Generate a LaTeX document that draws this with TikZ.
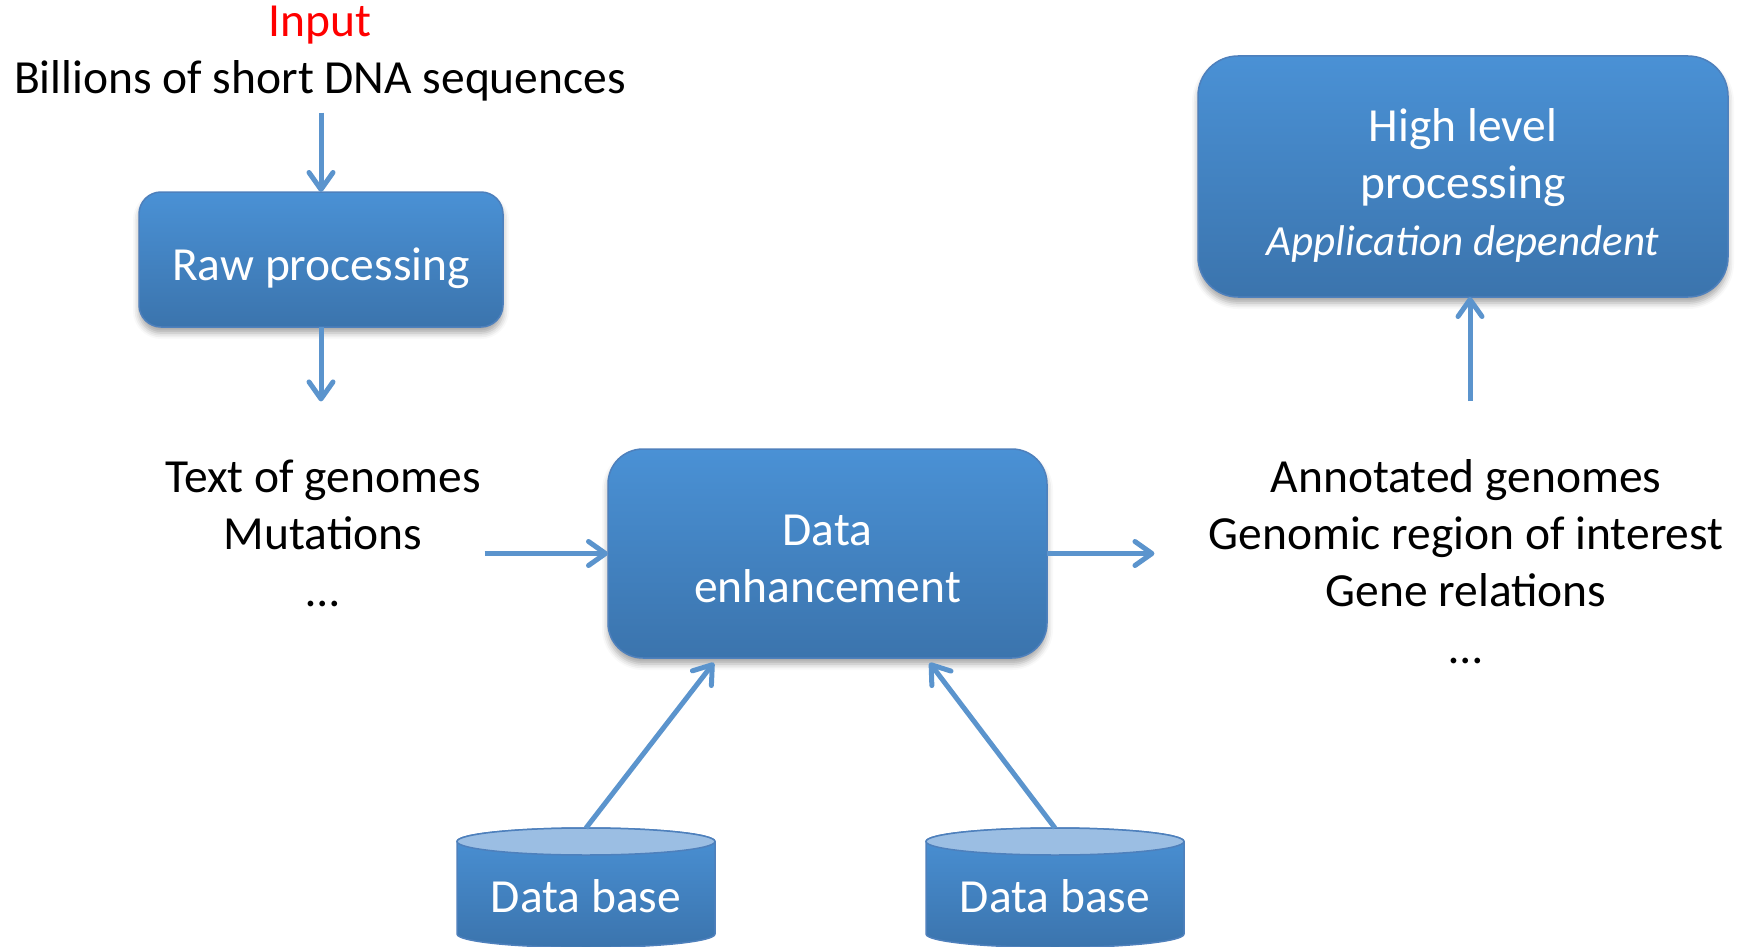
\documentclass[tikz,border=0pt]{standalone}
\usepackage{fontspec}
\setmainfont{Carlito}
\usetikzlibrary{arrows.meta,shadows.blur}
\definecolor{boxtop}{RGB}{74,145,213}
\definecolor{boxbot}{RGB}{59,116,173}
\definecolor{boxedge}{RGB}{78,128,188}
\definecolor{arrblue}{RGB}{91,148,205}
\definecolor{cyltop}{RGB}{155,190,227}
\definecolor{inred}{RGB}{255,0,0}
\begin{document}
\begin{tikzpicture}[x=1pt,y=-1pt,
  every node/.style={font=\fontsize{47.5}{57}\selectfont, inner sep=0pt, outer sep=0pt},
  procbox/.style={rounded corners=#1, top color=boxtop, bottom color=boxbot,
    draw=boxedge, line width=1.5pt, text=white, align=center,
    blur shadow={shadow xshift=0pt, shadow yshift=-6pt, shadow blur radius=6pt, shadow opacity=35}},
  plaintext/.style={align=center, text=black},
  dbbody/.style={top color=boxtop, bottom color=boxbot, draw=boxedge, line width=1.5pt},
  dbtop/.style={fill=cyltop, draw=boxedge, line width=1.5pt},
  arr/.style={line width=5pt, draw=arrblue, -{Straight Barb[length=17pt,width=24pt,round]}},
]
\useasboundingbox (0,0) rectangle (1746,947);

% top input text (anchor = baseline of last line)
\node[plaintext, anchor=base] (intxt) at (320,94) {\textcolor{inred}{Input}\\Billions of short DNA sequences};

% boxes
\node[procbox=22pt, minimum width=364pt, minimum height=135pt] (raw) at (321,259.5) {\rule{0pt}{51pt}Raw processing};
\node[procbox=35pt, minimum width=439pt, minimum height=209pt] (de) at (827.5,553.5) {\rule{0pt}{41pt}Data\\enhancement};
\node[procbox=40pt, minimum width=530pt, minimum height=241pt] (high) at (1463,176.5) {\rule{0pt}{50pt}High level\\processing\\{\fontsize{43}{57}\selectfont\itshape Application dependent}};

% side texts (anchor = baseline of last line)
\node[plaintext, anchor=base] (txtA) at (323,606) {Text of genomes\\Mutations\\…};
\node[plaintext, anchor=base] (txtB) at (1466,663) {Annotated genomes\\Genomic region of interest\\Gene relations\\…};

% databases
\path[dbbody] (457,841.5) -- (457,934) arc[start angle=180, end angle=0, x radius=129, y radius=13.5]
  -- (715,841.5) arc[start angle=0, end angle=-180, x radius=129, y radius=13.5] -- cycle;
\path[dbtop] (586,841.5) ellipse [x radius=129, y radius=13.5];
\node[text=white, anchor=base] (db1) at (586,912) {Data base};
\coordinate (db1top) at (586,828);

\path[dbbody] (926,841.5) -- (926,934) arc[start angle=180, end angle=0, x radius=129, y radius=13.5]
  -- (1184,841.5) arc[start angle=0, end angle=-180, x radius=129, y radius=13.5] -- cycle;
\path[dbtop] (1055,841.5) ellipse [x radius=129, y radius=13.5];
\node[text=white, anchor=base] (db2) at (1055,912) {Data base};
\coordinate (db2top) at (1055,828);

% connectors
\draw[arr, shorten <=11pt] (intxt.south -| raw.north) -- (raw.north);
\draw[arr, shorten >=58pt] (raw.south) -- (raw.south |- txtA.north);
\draw[arr, shorten <=4pt] (txtA.east |- de.west) -- (de.west);
\draw[arr, shorten >=54pt] (de.east) -- (de.east -| txtB.west);
\draw[arr, shorten <=58pt] ([xshift=4pt]txtB.north) -- ([xshift=7pt]high.south);
\draw[arr, shorten >=6pt] (db1top) -- ([xshift=-110pt]de.south);
\draw[arr, shorten >=6pt] (db2top) -- ([xshift=98.5pt]de.south);
\end{tikzpicture}
\end{document}
